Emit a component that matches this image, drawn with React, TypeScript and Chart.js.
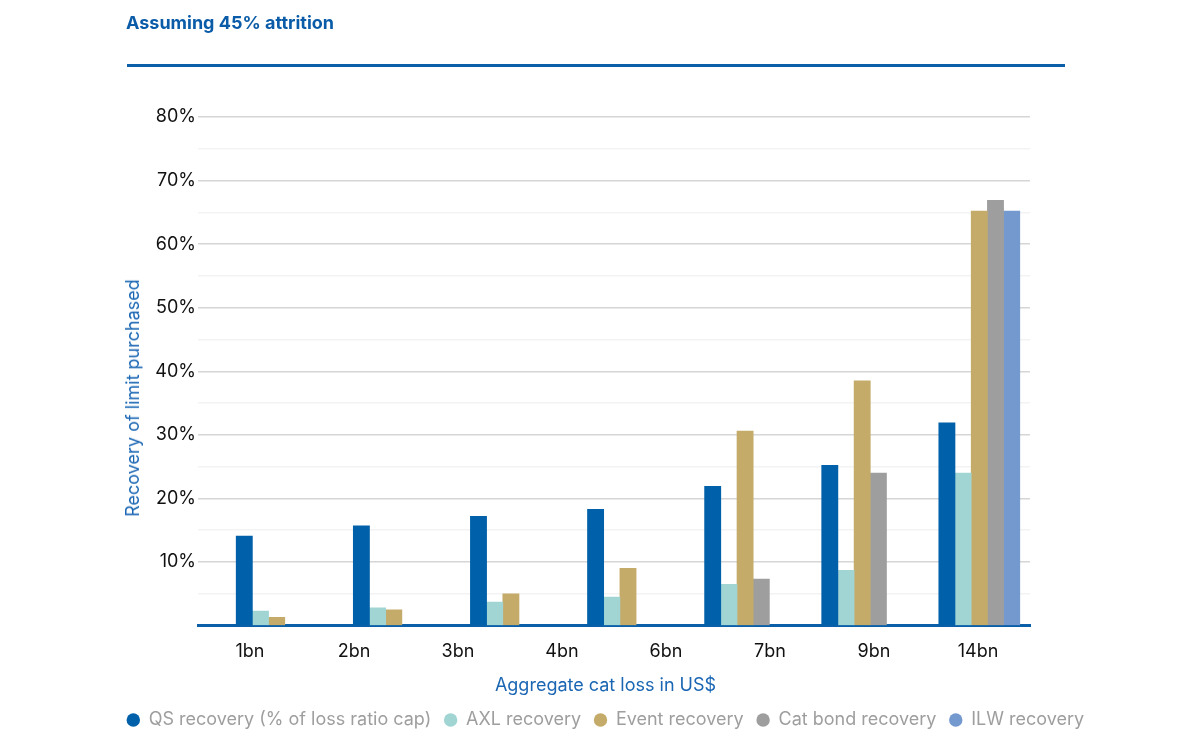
import React, { useEffect, useRef } from "react";
import { Chart, registerables } from "chart.js";

Chart.register(...registerables);

// ---- data ----
const tickLabels = ["1bn", "2bn", "3bn", "4bn", "6bn", "7bn", "9bn", "14bn"];
const seriesNames = [
  "QS recovery (% of loss ratio cap)",
  "AXL recovery",
  "Event recovery",
  "Cat bond recovery",
  "ILW recovery",
];
const seriesColors = ["#0060a9", "#a1d5d4", "#c4ab6a", "#9e9e9e", "#7399cf"];
const qsRecovery = [14.1, 15.7, 17.2, 18.3, 21.9, 25.2, 31.9];
const axlRecovery = [2.3, 2.8, 3.7, 4.5, 6.5, 8.7, 24.0];
const eventRecovery = [1.3, 2.5, 5.0, 9.0, 30.6, 38.5, 65.2];
const catBondRecovery = [null, null, null, null, 7.3, 24.0, 66.9];
const ilwRecovery = [null, null, null, null, null, null, 65.2];
const yTickValues = [10, 20, 30, 40, 50, 60, 70, 80];

const chartTitle = "Assuming 45% attrition";
const yTitle = "Recovery of limit purchased";
const xTitle = "Aggregate cat loss in US$";

const FONT = "Inter";

export default function App() {
  const canvasRef = useRef<HTMLCanvasElement | null>(null);

  useEffect(() => {
    const canvas = canvasRef.current;
    if (!canvas) return;
    const series = [qsRecovery, axlRecovery, eventRecovery, catBondRecovery, ilwRecovery];
    const chart = new Chart(canvas, {
      type: "bar",
      data: {
        datasets: series.map((values, s) => ({
          label: seriesNames[s],
          data: values.map((v, i) => ({ x: i, y: v })),
          backgroundColor: seriesColors[s],
          borderWidth: 0,
          barThickness: 16.2,
          xAxisID: "x",
          yAxisID: "y",
        })),
      },
      options: {
        responsive: false,
        animation: false,
        layout: { padding: { left: 105, right: 94, top: 117, bottom: 11 } },
        scales: {
          x: {
            type: "linear",
            display: false,
            offset: false,
            min: -0.672,
            max: 6.433,
            grid: { offset: false },
          },
          x2: {
            type: "category",
            labels: tickLabels,
            offset: true,
            position: "bottom",
            z: 1,
            grid: { drawOnChartArea: false, drawTicks: false },
            border: { display: true, color: "#0a5fa8", width: 3 },
            ticks: {
              color: "#111111",
              font: { family: FONT, size: 18 },
              padding: 15,
              autoSkip: false,
              maxRotation: 0,
            },
            afterFit: (s: any) => {
              s.height = 44.8;
            },
          },
          y: {
            type: "linear",
            position: "left",
            min: 0,
            max: 80,
            ticks: {
              stepSize: 5,
              color: "#111111",
              font: { family: FONT, size: 18 },
              padding: 2,
              callback: (v: any) => (yTickValues.includes(Number(v)) ? v + "%" : ""),
            },
            grid: {
              drawTicks: false,
              lineWidth: 1.5,
              color: (ctx: any) =>
                yTickValues.includes(ctx.tick?.value) ? "#d6d6d6" : "#f3f3f3",
            },
            border: { display: false },
            afterFit: (s: any) => {
              s.width = 93;
            },
          },
          y2: {
            type: "linear",
            position: "right",
            display: true,
            grid: { display: false },
            ticks: { display: false },
            border: { display: false },
            afterFit: (s: any) => {
              s.width = 76;
            },
          },
        },
        plugins: {
          tooltip: { enabled: false },
          legend: {
            position: "bottom",
            align: "center",
            labels: {
              usePointStyle: true,
              pointStyle: "circle",
              boxWidth: 12.8,
              boxHeight: 9.5,
              padding: 13,
              color: "#9e9e9e",
              font: { family: FONT, size: 18 },
            },
          },
          subtitle: {
            display: true,
            text: xTitle,
            position: "bottom",
            fullSize: true,
            weight: 500,
            color: "#1a66b3",
            font: { family: FONT, size: 18, weight: "normal" },
            padding: { top: 4, bottom: 2 },
          },
        },
      },
    } as any);
    return () => chart.destroy();
  }, []);

  return (
    <div style={{ position: "fixed", left: 0, top: 0, width: 1200, height: 750, background: "#ffffff" }}>
      <canvas ref={canvasRef} width={1200} height={750} style={{ position: "absolute", left: 0, top: 0 }} />
      <div
        style={{
          position: "absolute",
          left: 126,
          top: 14,
          fontFamily: FONT,
          fontWeight: 700,
          fontSize: 18,
          lineHeight: "18px",
          color: "#0b5ca8",
          whiteSpace: "nowrap",
        }}
      >
        {chartTitle}
      </div>
      <div style={{ position: "absolute", left: 127, top: 64, width: 938, height: 3, background: "#0a5fa8" }} />
      <div
        style={{
          position: "absolute",
          left: 133,
          top: 398,
          transform: "translate(-50%, -50%) rotate(-90deg)",
          fontFamily: FONT,
          fontSize: 18,
          lineHeight: "20px",
          color: "#1a66b3",
          whiteSpace: "nowrap",
        }}
      >
        {yTitle}
      </div>
    </div>
  );
}
